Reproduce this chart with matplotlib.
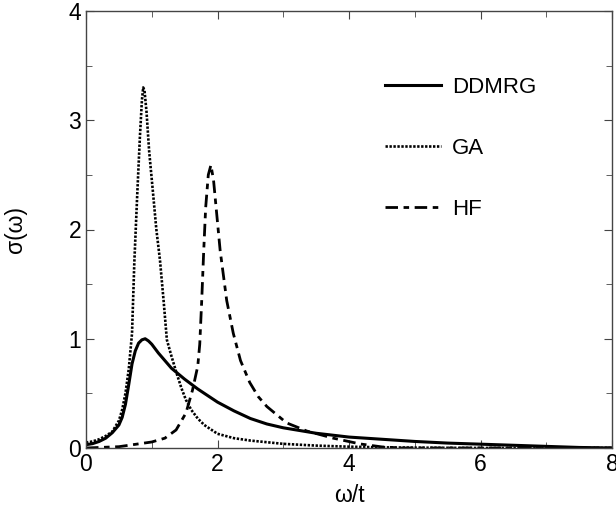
import matplotlib
matplotlib.use("Agg")
import matplotlib.pyplot as plt
from matplotlib.ticker import MultipleLocator

plt.rcParams['font.family'] = ['Liberation Sans', 'DejaVu Sans']

# values
ddmrg_w = [0.0, 0.1, 0.2, 0.3, 0.4, 0.5, 0.55, 0.6, 0.65, 0.7, 0.75, 0.8, 0.85,
           0.9, 0.95, 1.0, 1.05, 1.1, 1.2, 1.3, 1.4, 1.5, 1.7, 2.0, 2.25, 2.5,
           2.75, 3.0, 3.5, 4.0, 4.5, 5.0, 5.5, 6.0, 6.5, 7.0, 7.5, 8.0]
ddmrg_s = [0.03, 0.04, 0.06, 0.09, 0.14, 0.21, 0.28, 0.40, 0.58, 0.77, 0.89, 0.96, 0.99,
           1.00, 0.98, 0.95, 0.91, 0.87, 0.80, 0.73, 0.68, 0.63, 0.54, 0.42, 0.34, 0.27,
           0.22, 0.185, 0.135, 0.10, 0.08, 0.06, 0.045, 0.035, 0.025, 0.015, 0.005, 0.0]

ga_w = [0.0, 0.1, 0.2, 0.3, 0.4, 0.5, 0.55, 0.6, 0.65, 0.7, 0.735, 0.78, 0.82, 0.85,
        0.87, 0.89, 0.92, 0.96, 1.02, 1.07, 1.125, 1.18, 1.23, 1.3, 1.37, 1.45,
        1.52, 1.6, 1.7, 1.8, 2.0, 2.25, 2.5, 3.0, 3.5, 4.0, 4.5, 5.0, 6.0, 8.0]
ga_s = [0.05, 0.06, 0.08, 0.11, 0.15, 0.25, 0.35, 0.50, 0.72, 1.05, 1.70, 2.33, 2.85, 3.18,
        3.30, 3.27, 3.08, 2.72, 2.33, 2.00, 1.72, 1.35, 0.99, 0.84, 0.70, 0.55,
        0.44, 0.35, 0.27, 0.21, 0.13, 0.09, 0.068, 0.038, 0.022, 0.012, 0.006, 0.003, 0.0, 0.0]

hf_w = [0.0, 0.5, 1.0, 1.2, 1.37, 1.52, 1.62, 1.70, 1.73, 1.76, 1.79, 1.82, 1.86,
        1.90, 1.94, 2.04, 2.14, 2.24, 2.35, 2.49, 2.62, 2.75, 3.05, 3.36, 3.76,
        4.17, 4.5, 4.8, 8.0]
hf_s = [0.0, 0.012, 0.055, 0.09, 0.165, 0.32, 0.53, 0.75, 0.95, 1.35, 1.80, 2.20, 2.50,
        2.59, 2.45, 1.81, 1.35, 1.05, 0.80, 0.60, 0.47, 0.38, 0.23, 0.155, 0.09,
        0.037, 0.01, 0.0, 0.0]

fig = plt.figure(figsize=(6.16, 5.12), dpi=100)
ax = fig.add_axes([86/616, 64/512, 526/616, 437/512])

ax.plot(ddmrg_w, ddmrg_s, color='black', lw=2.2, label='DDMRG')
ax.plot(ga_w, ga_s, color='black', lw=1.9, linestyle=(0, (0.9, 0.6)), label='GA')
ax.plot(hf_w, hf_s, color='black', lw=2.0, linestyle=(0, (4.5, 2, 2, 2)), label='HF')

ax.set_xlim(0, 8)
ax.set_ylim(0, 4)
ax.xaxis.set_major_locator(MultipleLocator(2))
ax.xaxis.set_minor_locator(MultipleLocator(1))
ax.yaxis.set_major_locator(MultipleLocator(1))
ax.yaxis.set_minor_locator(MultipleLocator(0.5))
ax.tick_params(which='both', direction='in', top=True, right=True,
               color='#444444', labelsize=16.5)
ax.tick_params(which='major', length=6)
ax.tick_params(which='minor', length=4)
for sp in ax.spines.values():
    sp.set_color('#444444')
    sp.set_linewidth(1.0)

ax.set_xlabel('ω/t', fontsize=16.5, labelpad=6)
ax.set_ylabel('σ(ω)', fontsize=16.5, labelpad=30)

ax.legend(loc='upper left', bbox_to_anchor=(385/616, 1 - 77/512),
          bbox_transform=fig.transFigure, frameon=False, borderpad=0,
          borderaxespad=0, fontsize=16, handlelength=2.5, labelspacing=1.8,
          handletextpad=0.5)

fig.savefig('out.png', dpi=100)
